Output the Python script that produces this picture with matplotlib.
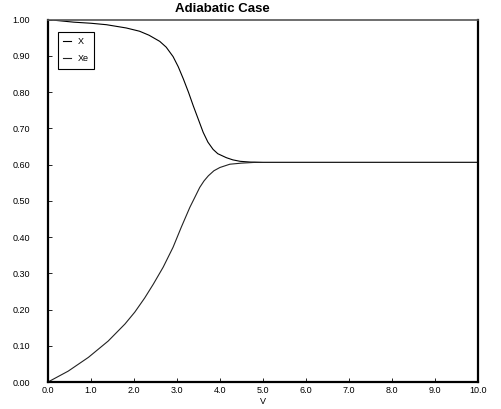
import numpy as np
import matplotlib.pyplot as plt

plt.rcParams['font.family'] = ['Liberation Sans', 'DejaVu Sans']

# data
v_x = [0.0, 0.6, 1.0, 1.36, 1.82, 2.13, 2.35, 2.6, 2.75, 2.91, 3.03, 3.15, 3.27, 3.38, 3.5,
       3.61, 3.72, 3.84, 3.95, 4.15, 4.3, 4.47, 4.7, 5.0, 6.0, 8.0, 10.0]
x = [1.0, 0.993, 0.99, 0.986, 0.977, 0.968, 0.957, 0.940, 0.924, 0.898, 0.870, 0.836, 0.799,
     0.762, 0.724, 0.689, 0.662, 0.642, 0.630, 0.619, 0.613, 0.609, 0.607, 0.606, 0.606, 0.606, 0.606]

v_xe = [0.0, 0.47, 0.94, 1.40, 1.79, 2.02, 2.25, 2.45, 2.68, 2.91, 3.10, 3.30, 3.43, 3.53,
        3.63, 3.73, 3.86, 4.0, 4.23, 4.5, 4.8, 5.0, 6.0, 8.0, 10.0]
xe = [0.0, 0.030, 0.068, 0.113, 0.160, 0.193, 0.232, 0.270, 0.317, 0.372, 0.427, 0.482, 0.513,
      0.537, 0.555, 0.569, 0.583, 0.592, 0.601, 0.604, 0.606, 0.606, 0.606, 0.606, 0.606]

xticks = np.arange(0, 10.01, 1.0)
yticks = np.arange(0, 1.001, 0.1)

fig = plt.figure(figsize=(5.01, 4.09), dpi=100)
ax = fig.add_axes([0.0958, 0.066, 0.858, 0.886])

ax.plot(v_x, x, color="black", lw=0.8, label="X")
ax.plot(v_xe, xe, color="#222222", lw=0.8, label="Xe")

ax.set_xlim(0, 10)
ax.set_ylim(0, 1)
ax.set_xticks(xticks)
ax.set_xticklabels([f"{t:.1f}" for t in xticks])
ax.set_yticks(yticks)
ax.set_yticklabels([f"{t:.2f}" for t in yticks])
ax.tick_params(direction="in", length=3, width=0.6, labelsize=6.5)
ax.tick_params(axis="y", pad=13)
ax.tick_params(axis="x", pad=3)

for s in ["left", "bottom", "right"]:
    ax.spines[s].set_linewidth(1.6)
ax.spines["top"].set_linewidth(1.2)
ax.spines["top"].set_color("#555555")

ax.set_xlabel("V", fontsize=6.5, labelpad=1)

leg = ax.legend(loc="upper left", bbox_to_anchor=(0.023, 0.967), fontsize=6.5,
                handlelength=0.8, handletextpad=0.8, borderpad=0.6,
                labelspacing=0.9, fancybox=False, framealpha=1, borderaxespad=0)
leg.get_frame().set_edgecolor("black")
leg.get_frame().set_linewidth(0.8)

fig.text(0.443, 0.978, "Adiabatic Case", fontsize=9.5, fontweight="bold",
         ha="center", va="center")

fig.savefig("out.png", dpi=100)
